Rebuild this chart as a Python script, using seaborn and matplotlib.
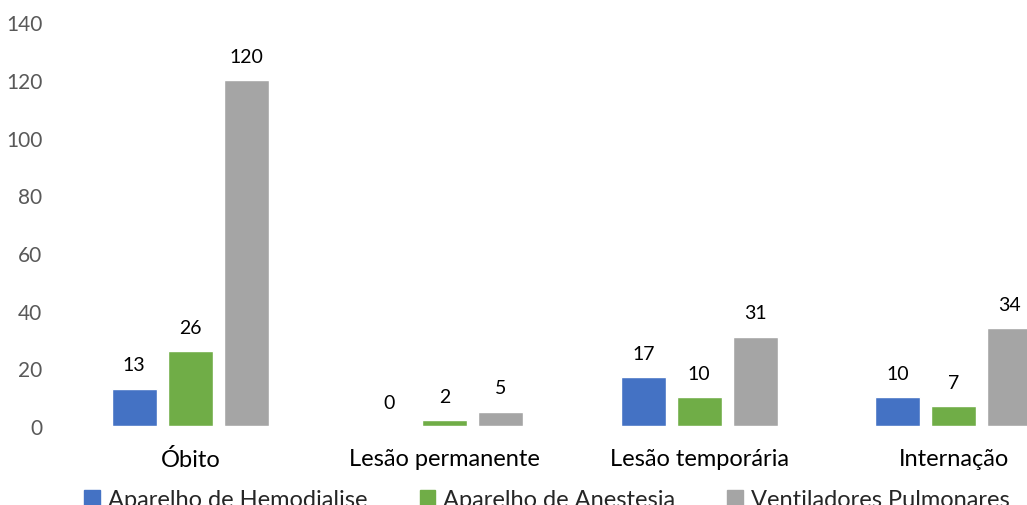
import pandas as pd
import seaborn as sns
import matplotlib.pyplot as plt

# dados
categorias = ['Óbito', 'Lesão permanente', 'Lesão temporária', 'Internação']
series = ['Aparelho de Hemodialise', 'Aparelho de Anestesia', 'Ventiladores Pulmonares']
hemodialise = [13, 0, 17, 10]
anestesia = [26, 2, 10, 7]
ventiladores = [120, 5, 31, 34]
cores = ['#4472C4', '#70AD47', '#A5A5A5']

df = pd.DataFrame({
    'categoria': categorias * 3,
    'serie': [series[0]] * 4 + [series[1]] * 4 + [series[2]] * 4,
    'valor': hemodialise + anestesia + ventiladores,
})

sns.set_style('white')
plt.rcParams['font.family'] = ['Lato', 'DejaVu Sans']

fig = plt.figure(figsize=(10.27, 5.06), dpi=100)
ax = fig.add_axes([63 / 1027, 79 / 506, 1018 / 1027, 403.6 / 506])

sns.barplot(data=df, x='categoria', y='valor', hue='serie', order=categorias,
            hue_order=series, palette=cores, width=0.66, gap=0.2,
            saturation=1, legend=False, ax=ax)

for c in ax.containers:
    ax.bar_label(c, fmt='%d', padding=11, fontsize=14, color='black')

ax.set_ylim(0, 140)
ax.set_yticks(range(0, 141, 20))
ax.set_xlim(-0.5, 3.5)
ax.set_xlabel('')
ax.set_ylabel('')
ax.tick_params(axis='y', labelsize=15, labelcolor='#595959', length=0, pad=15)
ax.tick_params(axis='x', labelsize=17, labelcolor='black', length=0, pad=16)
sns.despine(ax=ax, left=True, bottom=True)

handles = [plt.Rectangle((0, 0), 1, 1, color=c) for c in cores]
fig.legend(handles, series, loc='center', bbox_to_anchor=(547 / 1027, 1 - 501 / 506),
           ncol=3, frameon=False, fontsize=17, handlelength=0.65, handleheight=0.65,
           handletextpad=0.35, columnspacing=2.2)

fig.savefig('out.png', dpi=100)
